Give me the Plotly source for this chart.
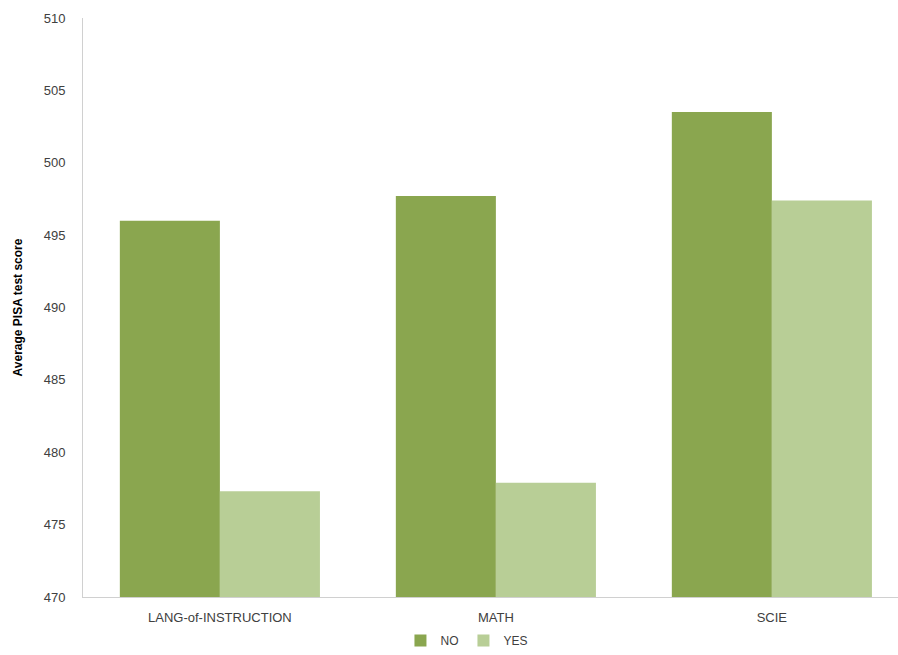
import plotly.graph_objects as go

categories = ["LANG-of-INSTRUCTION", "MATH", "SCIE"]
no_values = [496.0, 497.7, 503.5]
yes_values = [477.3, 477.9, 497.4]
y_ticks = [470, 475, 480, 485, 490, 495, 500, 505, 510]

font = "Liberation Sans, Arial, sans-serif"

fig = go.Figure()
fig.add_trace(go.Bar(name="NO", x=categories, y=no_values, marker_color="#8aa64f",
                     marker_line_width=0))
fig.add_trace(go.Bar(name="YES", x=categories, y=yes_values, marker_color="#b8ce96",
                     marker_line_width=0))

fig.update_layout(
    width=898, height=655,
    barmode="group", bargap=0.275, bargroupgap=0,
    plot_bgcolor="white", paper_bgcolor="white",
    margin=dict(l=83, r=0, t=18, b=58, autoexpand=False),
    font=dict(family=font, size=13, color="#404040"),
    legend=dict(orientation="h", x=0.52, xanchor="center", xref="container",
                y=0.0, yanchor="bottom", yref="container",
                font=dict(size=12, color="#404040"), itemwidth=30, traceorder="normal"),
    showlegend=True,
)
fig.update_yaxes(range=[470, 510], tickvals=y_ticks, showgrid=False,
                 showline=True, linecolor="#d0d0d0", linewidth=1, ticks="",
                 tickfont=dict(size=13, color="#404040"), ticklabelstandoff=14,
                 title=dict(text="<b>Average PISA test score</b>", font=dict(size=12, color="#000000"), standoff=18),
                 zeroline=False)
fig.update_xaxes(range=[-0.496, 2.457], showline=True, linecolor="#d0d0d0", linewidth=1, ticks="",
                 tickfont=dict(size=13, color="#404040"), ticklabelstandoff=8)

fig.write_html("out.html")
